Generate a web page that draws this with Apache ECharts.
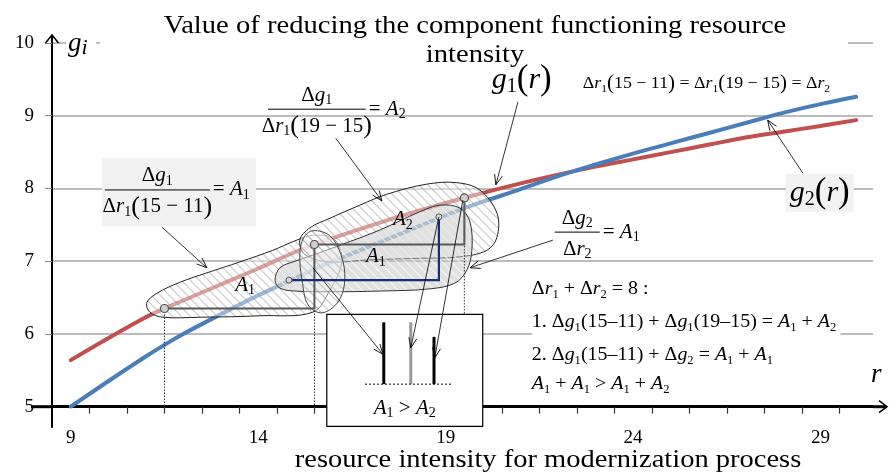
<!DOCTYPE html>
<html>
<head>
<meta charset="utf-8">
<script src="https://cdn.jsdelivr.net/npm/echarts@6/dist/echarts.min.js"></script>
<style>
  html, body { margin: 0; padding: 0; background: #fff; }
  #main { width: 889px; height: 473px; }
</style>
</head>
<body>
<div id="main"></div>
<script>
// r values where the curves were read
const rX = [9, 10, 11, 11.5, 12, 13, 14, 15, 15.5, 16, 17, 18, 19, 19.5, 20, 21, 22, 23, 24, 25, 26, 27, 28, 29, 29.95];
// g1(r) - red curve
const g1Vals = [5.64, 5.94, 6.23, 6.35, 6.46, 6.68, 6.90, 7.13, 7.23, 7.32, 7.49, 7.65, 7.80, 7.87, 7.94, 8.07, 8.19, 8.30, 8.40, 8.50, 8.60, 8.70, 8.78, 8.86, 8.94];
// g2(r) - blue curve
const g2Vals = [5.00, 5.35, 5.69, 5.85, 6.00, 6.27, 6.53, 6.77, 6.89, 7.00, 7.21, 7.42, 7.63, 7.73, 7.82, 7.99, 8.17, 8.33, 8.48, 8.62, 8.76, 8.90, 9.04, 9.16, 9.26];
// axis ticks / labels
const xTicks = [9.5, 10.5, 11.5, 12.5, 13.5, 14.5, 15.5, 16.5, 17.5, 18.5, 19.5, 20.5, 21.5, 22.5, 23.5, 24.5, 25.5, 26.5, 27.5, 28.5, 29.5];
const xLabels = [9, 14, 19, 24, 29];
// points on g1 (step 15-11, 19-15) and on g2
const g1Keys = [11.5, 15.5, 19.5];
const g2Keys = [14.82, 18.82];
const g2KeyVals = [6.74, 7.61];

const FONT = '"Liberation Serif", "Times New Roman", serif';
const chart = echarts.init(document.getElementById('main'));

chart.setOption({
  animation: false,
  grid: { left: 52, right: 16, top: 43, bottom: 66.3 },
  xAxis: {
    type: 'value', min: 8.5, max: 30.4,
    axisLine: { lineStyle: { color: '#000', width: 3 } },
    axisTick: { customValues: xTicks, length: 7, lineStyle: { color: '#333', width: 1.2 } },
    axisLabel: { customValues: xLabels, margin: 22, fontFamily: FONT, fontSize: 19, color: '#000' },
    splitLine: { show: false }
  },
  yAxis: {
    type: 'value', min: 5, max: 10, interval: 1,
    axisLine: { show: true, lineStyle: { color: '#000', width: 2 } },
    axisTick: { show: true, length: 7, lineStyle: { color: '#888' } },
    axisLabel: { margin: 18, fontFamily: FONT, fontSize: 19, color: '#000' },
    splitLine: { lineStyle: { color: '#a6a6a6', width: 1.5 } }
  },
  series: [
    {
      type: 'line', data: rX.map((x, k) => [x, g1Vals[k]]), smooth: 0.4, showSymbol: false,
      lineStyle: { color: '#c0504d', width: 4, cap: 'round' }, z: 2
    },
    {
      type: 'line', data: rX.map((x, k) => [x, g2Vals[k]]), smooth: 0.4, showSymbol: false,
      lineStyle: { color: '#4a7ebb', width: 4, cap: 'round' }, z: 2
    }
  ]
});

//数据坐标 -> 像素
const P = p => chart.convertToPixel({ gridIndex: 0 }, p);
const g1At = x => g1Vals[rX.indexOf(x)];

//斜线填充
function hatch(bg, line, step) {
  const c = document.createElement('canvas');
  c.width = c.height = step;
  const ctx = c.getContext('2d');
  ctx.fillStyle = bg;
  ctx.fillRect(0, 0, step, step);
  ctx.strokeStyle = line;
  ctx.lineWidth = 1.2;
  [-step, 0, step].forEach(k => {
    ctx.beginPath();
    ctx.moveTo(0, k);
    ctx.lineTo(step, step + k);
    ctx.stroke();
  });
  return { image: c, repeat: 'repeat' };
}

function richFor(sz, pScale) {
  const base = { fontFamily: FONT, fontSize: sz, color: '#000', lineHeight: sz + 4 };
  return {
    n: base,
    i: Object.assign({}, base, { fontStyle: 'italic' }),
    s: { fontFamily: FONT, fontSize: Math.round(sz * 0.65), color: '#000', lineHeight: Math.round(sz * 0.6), verticalAlign: 'bottom' },
    si: { fontFamily: FONT, fontSize: Math.round(sz * 0.8), fontStyle: 'italic', color: '#000', lineHeight: Math.round(sz * 0.7), verticalAlign: 'bottom' },
    p: Object.assign({}, base, { fontSize: Math.round(sz * pScale) })
  };
}

// *x* italic, _d subscript, () parentheses
function fm(s) {
  let out = '', buf = '', mode = 'n';
  const flush = () => { if (buf) { out += '{' + mode + '|' + buf + '}'; buf = ''; } };
  for (let k = 0; k < s.length; k++) {
    const ch = s[k];
    if (ch === '*') { flush(); mode = mode === 'i' ? 'n' : 'i'; }
    else if (ch === '_') { flush(); out += '{s|' + s[++k] + '}'; }
    else if (ch === '(' || ch === ')') { flush(); out += '{p|' + ch + '}'; }
    else buf += ch;
  }
  flush();
  return out;
}

function label(pt, str, sz, opt) {
  opt = opt || {};
  return {
    type: 'text', z: opt.z || 8, silent: true,
    scaleX: opt.sx || 1, originX: pt[0], originY: pt[1],
    style: {
      x: pt[0], y: pt[1], text: fm(str), rich: richFor(sz, opt.p || 1),
      align: opt.align || 'left', verticalAlign: 'middle',
      backgroundColor: opt.bg, padding: opt.pad
    }
  };
}

function line(a, b, stroke, w, dash, z) {
  return {
    type: 'line', z: z || 5, silent: true,
    shape: { x1: a[0], y1: a[1], x2: b[0], y2: b[1] },
    style: { stroke, lineWidth: w, lineDash: dash || null }
  };
}

function arrow(from, to) {
  const a = P(from), b = P(to);
  const dx = b[0] - a[0], dy = b[1] - a[1], L = Math.hypot(dx, dy);
  const ux = dx / L, uy = dy / L, len = 10, w = 4;
  const p1 = [b[0] - ux * len - uy * w, b[1] - uy * len + ux * w];
  const p2 = [b[0] - ux * len + uy * w, b[1] - uy * len - ux * w];
  return [
    line(a, b, '#000', 0.8, null, 9),
    { type: 'polyline', z: 9, silent: true, shape: { points: [p1, b, p2] }, style: { stroke: '#000', lineWidth: 0.9, fill: null } }
  ];
}

function blob(pts, fill, stroke) {
  return {
    type: 'polygon', z: 3, silent: true,
    shape: { points: pts.map(P), smooth: 0.35 },
    style: { fill, stroke, lineWidth: 1 }
  };
}

// fraction: bar from x0 to x1 at y (data), rhs after bar
function frac(x0, x1, y, num, den, rhs, sz) {
  const a = P([x0, y]), b = P([x1, y]);
  const cx = (a[0] + b[0]) / 2;
  return [
    label([cx, a[1] - 14], num, sz, { align: 'center', p: 1.2 }),
    line(a, b, '#000', 1, null, 8),
    label([cx, a[1] + 17], den, sz, { align: 'center', p: 1.25 }),
    label([b[0] + 3, a[1]], rhs, sz, { p: 1.2 })
  ];
}

// blobs (data coords)
const blobA = [[11.03, 6.43], [11.30, 6.56], [11.91, 6.71], [12.63, 6.84], [13.51, 6.99], [14.39, 7.15], [14.98, 7.28], [15.51, 7.36], [16.05, 7.29], [16.23, 6.99], [15.91, 6.60], [15.46, 6.30], [14.05, 6.25], [12.45, 6.23], [11.46, 6.23], [11.11, 6.30]];
const blobA2 = [[15.11, 7.29], [15.38, 7.46], [15.91, 7.59], [16.71, 7.77], [17.43, 7.92], [18.5, 8.06], [19.3, 8.08], [19.91, 7.98], [20.37, 7.66], [20.37, 7.33], [20.1, 7.15], [19.38, 7.06], [18.31, 7.04], [16.98, 7.02], [15.91, 6.99], [15.25, 7.09]];
const blobC = [[15.46, 7.42], [15.91, 7.35], [16.21, 7.09], [16.31, 6.74], [16.13, 6.44], [15.70, 6.29], [15.33, 6.40], [15.17, 6.74], [15.11, 7.09], [15.21, 7.32]];
const blobG = [[14.45, 6.74], [14.58, 6.91], [14.98, 7.00], [15.38, 7.07], [16.18, 7.22], [17.25, 7.43], [18.31, 7.68], [18.85, 7.77], [19.38, 7.73], [19.65, 7.54], [19.7, 7.15], [19.57, 6.88], [19.25, 6.70], [18.58, 6.62], [17.25, 6.59], [15.91, 6.58], [14.98, 6.59], [14.58, 6.63]];

const light = hatch('rgba(255,255,255,0.45)', 'rgba(150,150,150,0.5)', 9);
const grey = hatch('rgba(195,195,195,0.5)', 'rgba(255,255,255,0.75)', 9);

const els = [];
els.push(blob(blobA, light, '#222'));
els.push(blob(blobA2, light, '#222'));
els.push(blob(blobG, grey, '#333'));
els.push(blob(blobC, light, '#444'));

// dotted verticals
g1Keys.forEach(x => els.push(line(P([x, g1At(x)]), P([x, 5]), '#333', 1, [1.5, 1.5], 4)));

// step triangles on g1
for (let k = 0; k < 2; k++) {
  const x0 = g1Keys[k], x1 = g1Keys[k + 1];
  const y0 = g1At(x0), y1 = g1At(x1);
  els.push({ type: 'polyline', z: 5, silent: true, shape: { points: [P([x0, y0]), P([x1, y0]), P([x1, y1])] }, style: { stroke: '#595959', lineWidth: 2, fill: null } });
}
// step on g2
els.push({ type: 'polyline', z: 5, silent: true, shape: { points: [P([g2Keys[0], g2KeyVals[0]]), P([g2Keys[1], g2KeyVals[0]]), P([g2Keys[1], g2KeyVals[1]])] }, style: { stroke: '#12307a', lineWidth: 2.2, fill: null } });

// small circles
g1Keys.forEach(x => { const p = P([x, g1At(x)]); els.push({ type: 'circle', z: 6, silent: true, shape: { cx: p[0], cy: p[1], r: 4 }, style: { fill: '#cfcfcf', stroke: '#555', lineWidth: 1.2 } }); });
g2Keys.forEach((x, k) => { const p = P([x, g2KeyVals[k]]); els.push({ type: 'circle', z: 6, silent: true, shape: { cx: p[0], cy: p[1], r: 3 }, style: { fill: '#d8d8d8', stroke: '#555', lineWidth: 1 } }); });

// comparison box
const b0 = P([15.83, 6.27]), b1 = P([19.99, 4.73]);
els.push({ type: 'rect', z: 6, silent: true, shape: { x: b0[0], y: b0[1], width: b1[0] - b0[0], height: b1[1] - b0[1] }, style: { fill: '#fff', stroke: '#000', lineWidth: 1.2 } });
els.push(line(P([17.35, 6.16]), P([17.35, 5.31]), '#000', 3, null, 7));
els.push(line(P([18.07, 6.16]), P([18.07, 5.31]), '#999', 3, null, 7));
els.push(line(P([18.69, 5.96]), P([18.69, 5.31]), '#000', 3, null, 7));
els.push(line(P([16.85, 5.31]), P([19.17, 5.31]), '#000', 1, [2, 2], 7));
els.push(label(P([17.91, 4.98]), '*A*_1 > *A*_2', 21, { align: 'center' }));

// arrows
[
  [[15.46, 6.91], [17.33, 5.72]],
  [[18.82, 7.61], [18.07, 5.81]],
  [[19.46, 7.84], [18.71, 5.67]],
  [[11.43, 7.47], [12.63, 6.91]],
  [[16.07, 8.69], [17.3, 7.83]],
  [[20.93, 9.19], [20.34, 8.05]],
  [[28.53, 8.21], [27.59, 8.94]],
  [[21.86, 7.29], [19.65, 6.91]]
].forEach(a => els.push(...arrow(a[0], a[1])));

// area labels
els.push(label(P([13.65, 6.67]), '*A*_1', 21, { align: 'center' }));
els.push(label(P([17.14, 7.06]), '*A*_1', 21, { align: 'center' }));
els.push(label(P([17.86, 7.57]), '*A*_2', 21, { align: 'center' }));

// formula 1 with grey box
const e0 = P([9.83, 8.42]), e1 = P([13.94, 7.48]);
els.push({ type: 'rect', z: 7, silent: true, shape: { x: e0[0], y: e0[1], width: e1[0] - e0[0], height: e1[1] - e0[1] }, style: { fill: '#f2f2f2' } });
els.push(...frac(9.91, 12.71, 7.98, 'Δ*g*_1', 'Δ*r*_1(15 − 11)', '= *A*_1', 21));
els.push(...frac(14.26, 16.87, 9.09, 'Δ*g*_1', 'Δ*r*_1(19 − 15)', '= *A*_2', 21));
els.push(...frac(21.91, 23.11, 7.40, 'Δ*g*_2', 'Δ*r*_2', '= *A*_1', 21));

els.push(label(P([22.66, 9.44]), 'Δ*r*_1(15 − 11) = Δ*r*_1(19 − 15) = Δ*r*_2', 17, { p: 1.2, sx: 1.05 }));
els.push(label(P([21.03, 9.49]), '*g*_1(*r*)', 30, { align: 'center', p: 1.15 }));
els.push(label(P([28.98, 7.94]), '*g*_2(*r*)', 30, { align: 'center', p: 1.15, bg: '#f2f2f2', pad: [2, 4, 2, 4] }));

// text block
els.push(label(P([21.3, 6.62]), 'Δ*r*_1 + Δ*r*_2 = 8 :', 19, { sx: 1.05 }));
els.push(label(P([21.3, 6.16]), '1. Δ*g*_1(15–11) + Δ*g*_1(19–15) = *A*_1 + *A*_2', 19, { bg: '#fff', pad: [2, 4, 2, 0], sx: 1.05 }));
els.push(label(P([21.3, 5.71]), '2. Δ*g*_1(15–11) + Δ*g*_2 = *A*_1 + *A*_1', 19, { sx: 1.05 }));
els.push(label(P([21.3, 5.31]), '*A*_1 + *A*_1 > *A*_1 + *A*_2', 19, { sx: 1.05 }));

// axis extensions and open arrow heads
const O = P([8.5, 5]), XE = P([30.4, 5]), YT = P([8.5, 10]);
els.push(line([O[0] - 21, O[1]], O, '#000', 3, null, 1));
els.push(line(O, [O[0], O[1] + 21], '#000', 2, null, 1));
els.push(line(XE, [XE[0] + 13, XE[1]], '#000', 3, null, 1));
els.push({ type: 'polyline', z: 1, silent: true, shape: { points: [[XE[0] + 6, XE[1] - 6], [XE[0] + 14, XE[1]], [XE[0] + 6, XE[1] + 6]] }, style: { stroke: '#000', lineWidth: 1.5, fill: null } });
els.push(line(YT, [YT[0], YT[1] - 8], '#000', 2, null, 1));
els.push({ type: 'polyline', z: 1, silent: true, shape: { points: [[YT[0] - 6.5, YT[1]], [YT[0], YT[1] - 8], [YT[0] + 6.5, YT[1]]] }, style: { stroke: '#000', lineWidth: 1.5, fill: null } });

// axis names
els.push({ type: 'rect', z: 7, silent: true, shape: { x: YT[0] + 14, y: YT[1] - 14, width: 30, height: 26 }, style: { fill: '#fff' } });
els.push({ type: 'text', z: 8, silent: true, style: { x: YT[0] + 16, y: YT[1] + 1, text: '{i|g}{si|i}', rich: richFor(27, 1), verticalAlign: 'middle' } });
els.push({ type: 'text', z: 8, silent: true, style: { x: XE[0] - 2, y: XE[1] - 32, text: '{i|r}', rich: richFor(27, 1), verticalAlign: 'middle' } });
els.push({ type: 'text', z: 8, silent: true, scaleX: 1.14, originX: 548, originY: 460, style: { x: 548, y: 460, text: 'resource intensity for modernization process', fontFamily: FONT, fontSize: 25, fill: '#000', align: 'center', verticalAlign: 'middle' } });

// title
els.push({ type: 'rect', z: 7, silent: true, shape: { x: 100, y: 6, width: 748, height: 60 }, style: { fill: '#fff' } });
els.push({ type: 'text', z: 8, silent: true, scaleX: 1.1, originX: 475, originY: 26, style: { x: 475, y: 26, text: 'Value of reducing the component functioning resource', fontFamily: FONT, fontSize: 26, fill: '#000', align: 'center', verticalAlign: 'middle' } });
els.push({ type: 'text', z: 8, silent: true, scaleX: 1.1, originX: 475, originY: 55, style: { x: 475, y: 55, text: 'intensity', fontFamily: FONT, fontSize: 26, fill: '#000', align: 'center', verticalAlign: 'middle' } });

chart.setOption({ graphic: { elements: els } });
</script>
</body>
</html>
